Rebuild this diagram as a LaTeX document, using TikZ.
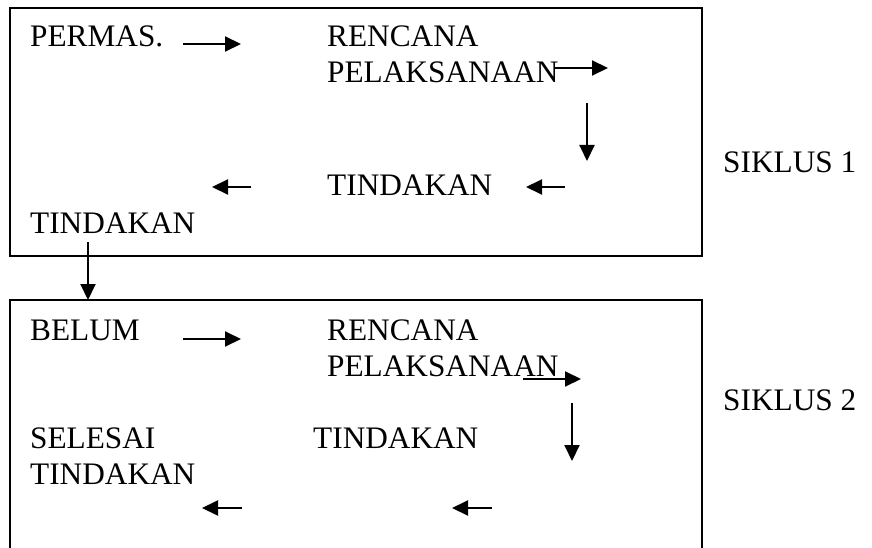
\documentclass[tikz,border=0pt]{standalone}
\usepackage{fontspec}
\setmainfont{Liberation Serif}
\usetikzlibrary{arrows.meta}
\begin{document}
\begin{tikzpicture}[x=1pt,y=-1pt,
  lbl/.style={anchor=base west,inner sep=0pt,font=\fontsize{31.3}{35.6}\selectfont},
  arr/.style={line width=2pt,-{Triangle[length=16pt,width=15pt]}},
  frame/.style={line width=2pt}]
\useasboundingbox (0,0) rectangle (872,548);
% boxes
\draw[frame] (10,8) rectangle (702,256);
\draw[frame] (10,560) -- (10,300) -- (702,300) -- (702,560);
% cycle 1
\node[lbl] (p1) at (30,47) {PERMAS.};
\node[lbl] (r1) at (327,47) {RENCANA};
\node[lbl] (pl1) at (327,83) {PELAKSANAAN};
\node[lbl] (t1) at (327,195) {TINDAKAN};
\node[lbl] (tl1) at (30,233) {TINDAKAN};
\node[lbl] (s1) at (723,172) {SIKLUS 1};
\coordinate (a1s) at (183,44); \coordinate (a1e) at (241,44);
\coordinate (a2s) at (555,68); \coordinate (a2e) at (608,68);
\coordinate (a3s) at (587,103); \coordinate (a3e) at (587,161);
\coordinate (a4s) at (565,187); \coordinate (a4e) at (526,187);
\coordinate (a5s) at (251,187); \coordinate (a5e) at (212,187);
\coordinate (a6s) at (88,242); \coordinate (a6e) at (88,300);
\draw[arr] (a1s) -- (a1e);
\draw[arr] (a2s) -- (a2e);
\draw[arr] (a3s) -- (a3e);
\draw[arr] (a4s) -- (a4e);
\draw[arr] (a5s) -- (a5e);
\draw[arr] (a6s) -- (a6e);
% cycle 2
\node[lbl] (b2) at (30,340) {BELUM};
\node[lbl] (r2) at (327,340) {RENCANA};
\node[lbl] (pl2) at (327,376) {PELAKSANAAN};
\node[lbl] (se2) at (30,448) {SELESAI};
\node[lbl] (tl2) at (30,484) {TINDAKAN};
\node[lbl] (t2) at (313,448) {TINDAKAN};
\node[lbl] (s2) at (723,410) {SIKLUS 2};
\coordinate (b1s) at (183,339); \coordinate (b1e) at (241,339);
\coordinate (b2s) at (523,379); \coordinate (b2e) at (581,379);
\coordinate (b3s) at (572,403); \coordinate (b3e) at (572,461);
\coordinate (b4s) at (492,508); \coordinate (b4e) at (452,508);
\coordinate (b5s) at (242,508); \coordinate (b5e) at (202,508);
\draw[arr] (b1s) -- (b1e);
\draw[arr] (b2s) -- (b2e);
\draw[arr] (b3s) -- (b3e);
\draw[arr] (b4s) -- (b4e);
\draw[arr] (b5s) -- (b5e);
\end{tikzpicture}
\end{document}
